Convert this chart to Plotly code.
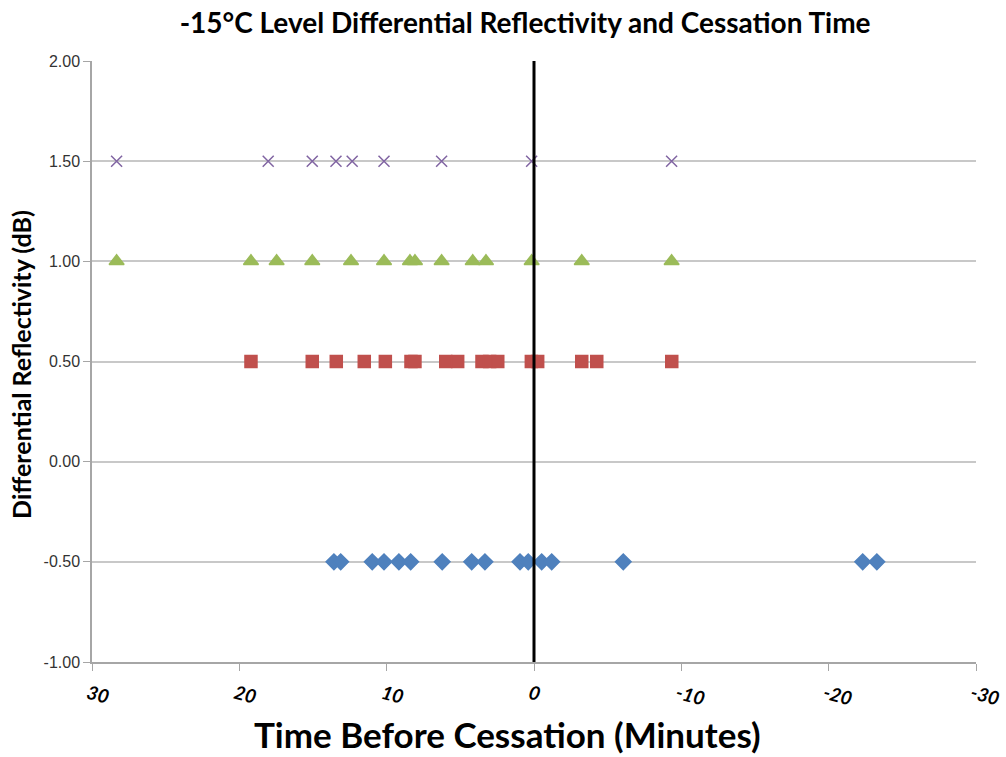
import plotly.graph_objects as go

# Data: minutes before cessation, for each differential reflectivity level
zdr_m050_times = [13.58, 13.12, 10.98, 10.18, 9.17, 8.37, 6.23, 4.23, 3.33,
                  0.95, 0.39, -0.52, -1.2, -6.06, -22.31, -23.27]
zdr_050_times = [19.21, 15.05, 13.42, 11.52, 10.09, 8.35, 8.08, 5.99, 5.18,
                 3.53, 3.01, 2.46, 0.18, -0.25, -3.24, -4.26, -9.35]
zdr_100_times = [28.33, 19.21, 17.47, 15.05, 12.42, 10.18, 8.42, 8.08, 6.27,
                 4.16, 3.26, 0.16, -3.24, -9.34]
zdr_150_times = [28.33, 18.04, 15.05, 13.44, 12.34, 10.18, 6.27, 0.16, -9.34]

levels = [-0.5, 0.5, 1.0, 1.5]
x_ticks = [30, 20, 10, 0, -10, -20, -30]
y_ticks = [-1.0, -0.5, 0.0, 0.5, 1.0, 1.5, 2.0]

series = [
    (zdr_m050_times, levels[0], "diamond", "#4F81BD", 12),
    (zdr_050_times, levels[1], "square", "#C0504D", 12),
    (zdr_100_times, levels[2], "triangle-up", "#9BBB59", 13),
    (zdr_150_times, levels[3], "x-thin-open", "#8064A2", 11),
]

fig = go.Figure()
for times, lvl, sym, col, sz in series:
    fig.add_trace(go.Scatter(
        x=times, y=[lvl] * len(times), mode="markers",
        marker=dict(symbol=sym, color=col, size=sz,
                    line=dict(color=col, width=1.5)),
        showlegend=False))

fig.add_shape(type="line", xref="x", yref="y", x0=0, x1=0, y0=-1, y1=2,
              line=dict(color="black", width=3))

fig.add_annotation(text="<b>Time Before Cessation (Minutes)</b>",
                   xref="paper", yref="paper", x=0.47, y=-0.119,
                   xanchor="center", yanchor="middle", showarrow=False,
                   font=dict(family="Lato", size=35, color="black"))

fig.add_annotation(text="<b>Differential Reflectivity (dB)</b>",
                   xref="paper", yref="paper", x=-0.081, y=0.495,
                   xanchor="center", yanchor="middle", showarrow=False,
                   textangle=-90,
                   font=dict(family="Lato", size=25, color="black"))

fig.update_layout(
    width=1006, height=757,
    margin=dict(l=92, r=30, t=61, b=95),
    paper_bgcolor="white", plot_bgcolor="white",
    title=dict(text="<b>-15°C Level Differential Reflectivity and Cessation Time</b>",
               x=0.522, xanchor="center", y=0.97, yanchor="middle",
               font=dict(family="Lato", size=28, color="black")),
    xaxis=dict(range=[30, -30], tickvals=x_ticks, automargin=False,
               ticktext=[f"<b><i>{v}</i></b>" for v in x_ticks],
               tickangle=15, tickfont=dict(family="Lato", size=19, color="black"),
               ticklabelshift=4, ticklabelstandoff=5,
               ticklabeloverflow="allow",
               showgrid=False, zeroline=False,
               showline=True, linecolor="#A6A6A6", linewidth=1.5,
               ticks="outside", ticklen=7, tickcolor="#A6A6A6"),
    yaxis=dict(range=[-1, 2], tickvals=y_ticks, automargin=False,
               ticktext=[f"{v:.2f}" for v in y_ticks],
               tickfont=dict(family="Liberation Sans", size=16, color="#333333"),
               showgrid=True, gridcolor="#C8C8C8", gridwidth=2,
               zeroline=False,
               showline=True, linecolor="#A6A6A6", linewidth=1.5,
               ticks="outside", ticklen=7, tickcolor="#A6A6A6"),
)

fig.write_html("out.html")
